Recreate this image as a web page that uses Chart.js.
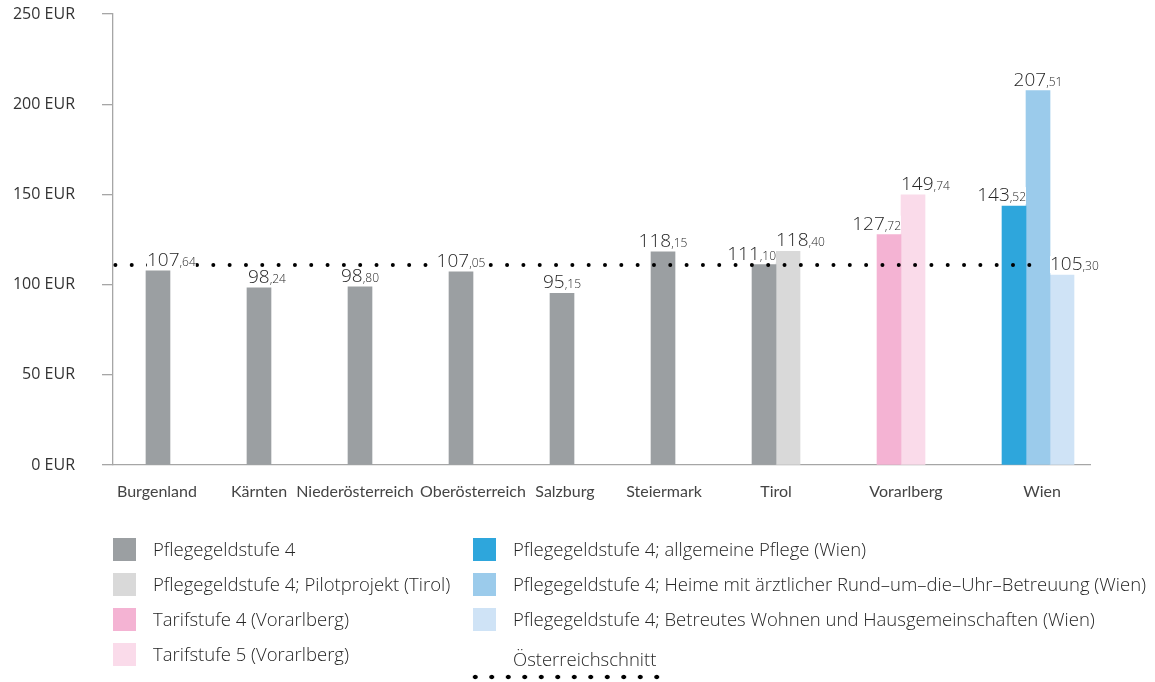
<!DOCTYPE html>
<html>
<head>
<meta charset="utf-8">
<script src="https://cdn.jsdelivr.net/npm/chart.js@4.4.1/dist/chart.umd.min.js"></script>
<style>
  body { margin: 0; background: #fff; }
  #wrap { position: relative; width: 1155px; height: 682px; }
  #chart { position: absolute; left: 0; top: 0; }
  #legend { position: absolute; left: 0; top: 0; width: 1155px; height: 682px;
    font-family: "Open Sans", sans-serif; font-weight: 300; font-size: 18.5px; color: #262626; }
  .item { position: absolute; height: 24px; line-height: 24px; white-space: nowrap; }
  .sw { position: absolute; left: 0; top: 0; width: 23px; height: 23px; }
  .txt { position: absolute; top: -1px; }
  .dots { position: absolute; height: 6px;
    background: radial-gradient(circle, #000 2px, transparent 2.6px);
    background-size: 16.5px 6px; background-repeat: repeat-x; }
</style>
</head>
<body>
<div id="wrap">
  <canvas id="chart" width="1155" height="520"></canvas>
  <div id="legend"></div>
</div>
<script>
// Bundesländer
const groups = ["Burgenland", "Kärnten", "Niederösterreich", "Oberösterreich", "Salzburg",
                "Steiermark", "Tirol", "Vorarlberg", "Wien"];

// Tagsätze in EUR (null = kein Wert für dieses Bundesland)
const pflegeStufe4  = [107.64, 98.24, 98.80, 107.05, 95.15, 118.15, 111.10, null, null];
const pilotTirol    = [null, null, null, null, null, null, 118.40, null, null];
const tarif4Vbg     = [null, null, null, null, null, null, null, 127.72, null];
const tarif5Vbg     = [null, null, null, null, null, null, null, 149.74, null];
const wienAllgemein = [null, null, null, null, null, null, null, null, 143.52];
const wienHeime     = [null, null, null, null, null, null, null, null, 207.51];
const wienBetreut   = [null, null, null, null, null, null, null, null, 105.30];

const schnitt = 110.9;   // Österreichschnitt
const yTicks = [0, 50, 100, 150, 200, 250];

const series = [
  { label: "Pflegegeldstufe 4", data: pflegeStufe4, color: "#9b9fa2" },
  { label: "Pflegegeldstufe 4; Pilotprojekt (Tirol)", data: pilotTirol, color: "#d9d9d9" },
  { label: "Tarifstufe 4 (Vorarlberg)", data: tarif4Vbg, color: "#f4b3d3" },
  { label: "Tarifstufe 5 (Vorarlberg)", data: tarif5Vbg, color: "#fadbea" },
  { label: "Pflegegeldstufe 4; allgemeine Pflege (Wien)", data: wienAllgemein, color: "#2ea6dc" },
  { label: "Pflegegeldstufe 4; Heime mit ärztlicher Rund–um–die–Uhr–Betreuung (Wien)", data: wienHeime, color: "#9bcbeb" },
  { label: "Pflegegeldstufe 4; Betreutes Wohnen und Hausgemeinschaften (Wien)", data: wienBetreut, color: "#cfe3f6" }
];

// layout on the x axis, in bar widths (1 bar = 24px)
const BAR_PX = 24;
const GAP = 3.21, LEAD = 1.375, TAIL = 0.667;
const counts = groups.map((g, i) => series.filter(s => s.data[i] !== null).length);
const centers = [];
let cursor = LEAD;
counts.forEach((n, i) => {
  centers.push(cursor + n / 2);
  cursor += n + (i < counts.length - 1 ? GAP : 0);
});
const xMax = cursor + TAIL;

// small horizontal nudges of the category names (px), as in the original
const labelNudge = [-1, 0, -5, 12, 3, 1, 0, 5, 4];
const leftLabels = ["Burgenland", "Kärnten"];

const datasets = series.map(s => ({
  type: "bar",
  label: s.label,
  data: s.data.map((v, i) => ({ x: centers[i], y: v })),
  backgroundColor: s.color,
  barThickness: BAR_PX,
  skipNull: true,
  order: 1
}));

datasets.push({
  type: "line",
  label: "Österreichschnitt",
  data: [{ x: 0.1, y: schnitt }, { x: centers[8] - 0.3, y: schnitt }],
  borderColor: "#000",
  borderWidth: 4,
  borderDash: [0, 16.32],
  borderCapStyle: "round",
  pointRadius: 0,
  order: 0
});

// value labels: "107" big, ",64" small, on a white box over the dotted line
const BIG = "300 19px 'Open Sans'", SMALL = "300 12px 'Open Sans'";
const valueLabels = {
  id: "valueLabels",
  afterDatasetsDraw(chart) {
    const ctx = chart.ctx;
    ctx.save();
    ctx.textBaseline = "alphabetic";
    chart.data.datasets.forEach((ds, di) => {
      if (ds.type !== "bar") return;
      const meta = chart.getDatasetMeta(di);
      meta.data.forEach((bar, i) => {
        const v = ds.data[i].y;
        if (v === null) return;
        const parts = v.toFixed(2).split(".");
        ctx.font = BIG;
        const w1 = ctx.measureText(parts[0]).width;
        ctx.font = SMALL;
        const w2 = ctx.measureText("," + parts[1]).width;
        const w = w1 + w2;
        // position of this bar inside its group
        const inGroup = series.filter(s => s.data[i] !== null);
        const k = inGroup.findIndex(s => s.label === ds.label);
        const n = inGroup.length;
        let x0;
        if (n > 1 && k === 0) x0 = bar.x + 12 - w;
        else if (n > 1 && k === n - 1) x0 = bar.x - 12;
        else if (n === 1 && leftLabels.includes(groups[i])) x0 = bar.x - 11;
        else x0 = bar.x - w / 2;
        const y = bar.y - 5;
        ctx.fillStyle = "#fff";
        ctx.fillRect(x0, y - 14, w, 17);
        ctx.fillStyle = "#262626";
        ctx.font = BIG;
        ctx.fillText(parts[0], x0, y);
        ctx.font = SMALL;
        ctx.fillText("," + parts[1], x0 + w1, y);
      });
    });
    ctx.restore();
  }
};

new Chart(document.getElementById("chart"), {
  data: { datasets },
  options: {
    responsive: false,
    animation: false,
    layout: { padding: { top: 14, right: 65, left: 0, bottom: 0 } },
    plugins: { legend: { display: false }, tooltip: { enabled: false } },
    scales: {
      x: {
        type: "linear",
        offset: false,
        min: 0,
        max: xMax,
        grid: { display: false, drawTicks: false, offset: false },
        border: { display: true, color: "#a6a6a6", width: 1.3 },
        afterBuildTicks: s => {
          s.ticks = centers.map((v, i) => ({ value: v + labelNudge[i] / BAR_PX }));
        },
        afterFit: s => { s.height = 55; },
        ticks: {
          autoSkip: false,
          maxRotation: 0,
          padding: 17,
          color: "#444",
          font: { family: "Lato", size: 16 },
          callback: (v, i) => groups[i]
        }
      },
      y: {
        min: 0,
        max: 250,
        afterBuildTicks: s => { s.ticks = yTicks.map(v => ({ value: v })); },
        afterFit: s => { s.width = 113; s.paddingTop = 0; },
        grid: { drawOnChartArea: false, drawTicks: true, tickLength: 11, color: "#a6a6a6", lineWidth: 1.3 },
        border: { color: "#a6a6a6", width: 1.3 },
        ticks: {
          padding: 27,
          color: "#333",
          font: { family: "Open Sans", size: 16 },
          callback: v => v + " EUR"
        }
      }
    }
  },
  plugins: [valueLabels]
});

// legend in two columns, built from the datasets
const legend = document.getElementById("legend");
const rowTop = [538, 573, 608, 643];
datasets.forEach((ds, i) => {
  const col = i < 4 ? 0 : 1;
  const row = i % 4;
  const left = col === 0 ? 113 : 473;
  const item = document.createElement("div");
  item.className = "item";
  item.style.left = left + "px";
  item.style.top = rowTop[row] + "px";
  const t = document.createElement("span");
  t.className = "txt";
  t.style.left = "40px";
  t.textContent = ds.label;
  if (ds.type === "bar") {
    const sw = document.createElement("div");
    sw.className = "sw";
    sw.style.background = ds.backgroundColor;
    item.appendChild(sw);
    item.appendChild(t);
  } else {
    item.style.top = (rowTop[row] + 5) + "px";
    item.appendChild(t);
    const d = document.createElement("div");
    d.className = "dots";
    d.style.left = "-6px";
    d.style.top = "26px";
    d.style.width = "196px";
    item.appendChild(d);
  }
  legend.appendChild(item);
});
</script>
</body>
</html>
